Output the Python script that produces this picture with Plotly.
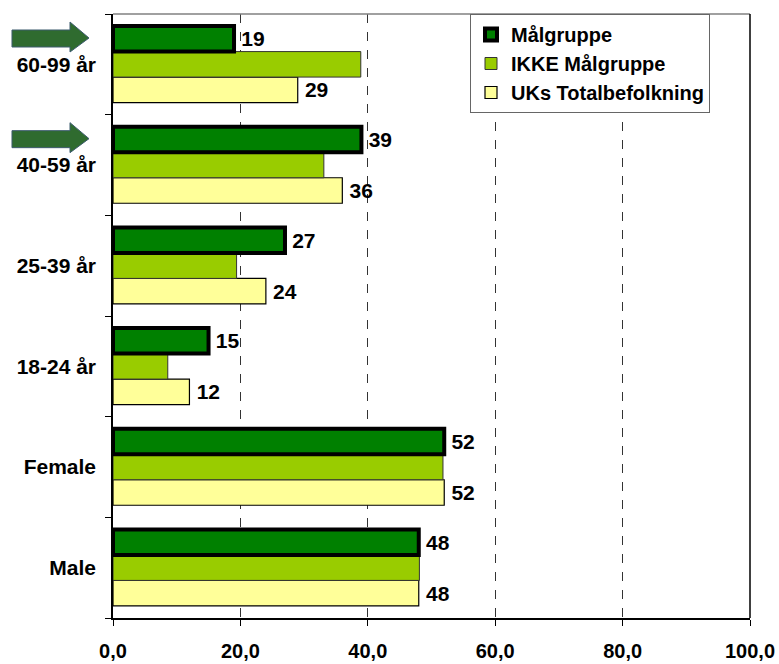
import plotly.graph_objects as go

# Categories, bottom to top
categories = ["Male", "Female", "18-24 år", "25-39 år", "40-59 år", "60-99 år"]

malgruppe = [48, 52, 15, 27, 39, 19]
ikke_malgruppe = [48.1, 51.8, 8.6, 19.4, 33.1, 38.9]
uks_total = [48, 52, 12, 24, 36, 29]

# Categories that get a highlight arrow
highlighted = ["60-99 år", "40-59 år"]

x_ticks = [0, 20, 40, 60, 80, 100]

FONT = "Liberation Sans, Arial, sans-serif"
W, H = 779, 664
M_L, M_R, M_T, M_B = 113, 29, 14, 46


def bold(size):
    return dict(family=FONT, size=size, color="#000000", weight="bold")


LABEL = "\u2009%{text:.0f}"

fig = go.Figure()

# Added in reverse so the first series sits at the top of each group
fig.add_trace(go.Bar(
    y=categories, x=uks_total, orientation="h", name="UKs Totalbefolkning",
    marker=dict(color="#FFFF99", line=dict(color="#000000", width=1.2)),
    text=uks_total, texttemplate=LABEL, textposition="outside",
    cliponaxis=False, textfont=bold(21),
))
fig.add_trace(go.Bar(
    y=categories, x=ikke_malgruppe, orientation="h", name="IKKE Målgruppe",
    marker=dict(color="#99CC00", line=dict(color="#333333", width=1)),
))
fig.add_trace(go.Bar(
    y=categories, x=malgruppe, orientation="h", name="Målgruppe",
    marker=dict(color="#008000", line=dict(color="#000000", width=4)),
    text=malgruppe, texttemplate=LABEL, textposition="outside",
    cliponaxis=False, textfont=bold(21),
))

plot_w = W - M_L - M_R
plot_h = H - M_T - M_B
band = plot_h / len(categories)


def px_to_paper_x(px):
    return (px - M_L) / plot_w


def px_to_paper_y(py):
    return (H - M_B - py) / plot_h


shapes = []
# Highlight arrows to the left of the category labels
for cat in highlighted:
    idx = categories.index(cat)
    band_top = M_T + (len(categories) - 1 - idx) * band
    cy = band_top + 24
    pts = [(12, cy - 8), (70, cy - 8), (70, cy - 16), (89, cy),
           (70, cy + 14), (70, cy + 9), (12, cy + 9)]
    path = "M " + " L ".join(
        f"{px_to_paper_x(px):.5f},{px_to_paper_y(py):.5f}" for px, py in pts) + " Z"
    shapes.append(dict(type="path", xref="paper", yref="paper", path=path,
                       fillcolor="#2F6B2F", line=dict(color="#3D5C6E", width=1)))

# Plot area frame (top and right edges)
shapes.append(dict(type="line", xref="paper", yref="paper", x0=0, x1=1, y0=1, y1=1,
                   line=dict(color="#808080", width=1.5)))
shapes.append(dict(type="line", xref="paper", yref="paper", x0=1, x1=1, y0=0, y1=1,
                   line=dict(color="#000000", width=1.5)))

fig.update_layout(
    width=W, height=H,
    margin=dict(l=M_L, r=M_R, t=M_T, b=M_B, pad=0, autoexpand=False),
    paper_bgcolor="#FFFFFF", plot_bgcolor="#FFFFFF",
    barmode="group", bargap=0.24, bargroupgap=0,
    separators=",.",
    font=bold(21),
    showlegend=True,
    legend=dict(
        traceorder="reversed",
        x=px_to_paper_x(470), y=1, xanchor="left", yanchor="top",
        bgcolor="#FFFFFF", bordercolor="#666666", borderwidth=1,
        font=bold(20),
        itemwidth=30, tracegroupgap=0,
    ),
    xaxis=dict(
        range=[0, 100], tickvals=x_ticks, tickformat=".1f",
        showgrid=True, gridcolor="#333333", griddash="dash", gridwidth=1,
        zeroline=False, showline=True, linecolor="#000000", linewidth=1.5,
        ticks="outside", ticklen=6, tickcolor="#000000",
        ticklabelstandoff=8,
        tickfont=bold(20), automargin=False,
        fixedrange=True,
    ),
    yaxis=dict(
        categoryorder="array", categoryarray=categories,
        showline=True, linecolor="#000000", linewidth=1.5,
        ticks="outside", tickson="boundaries", ticklen=6, tickcolor="#000000",
        ticklabelstandoff=11, automargin=False,
        tickfont=bold(21),
        showgrid=False, fixedrange=True,
    ),
    shapes=shapes,
)

fig.write_html("out.html")
